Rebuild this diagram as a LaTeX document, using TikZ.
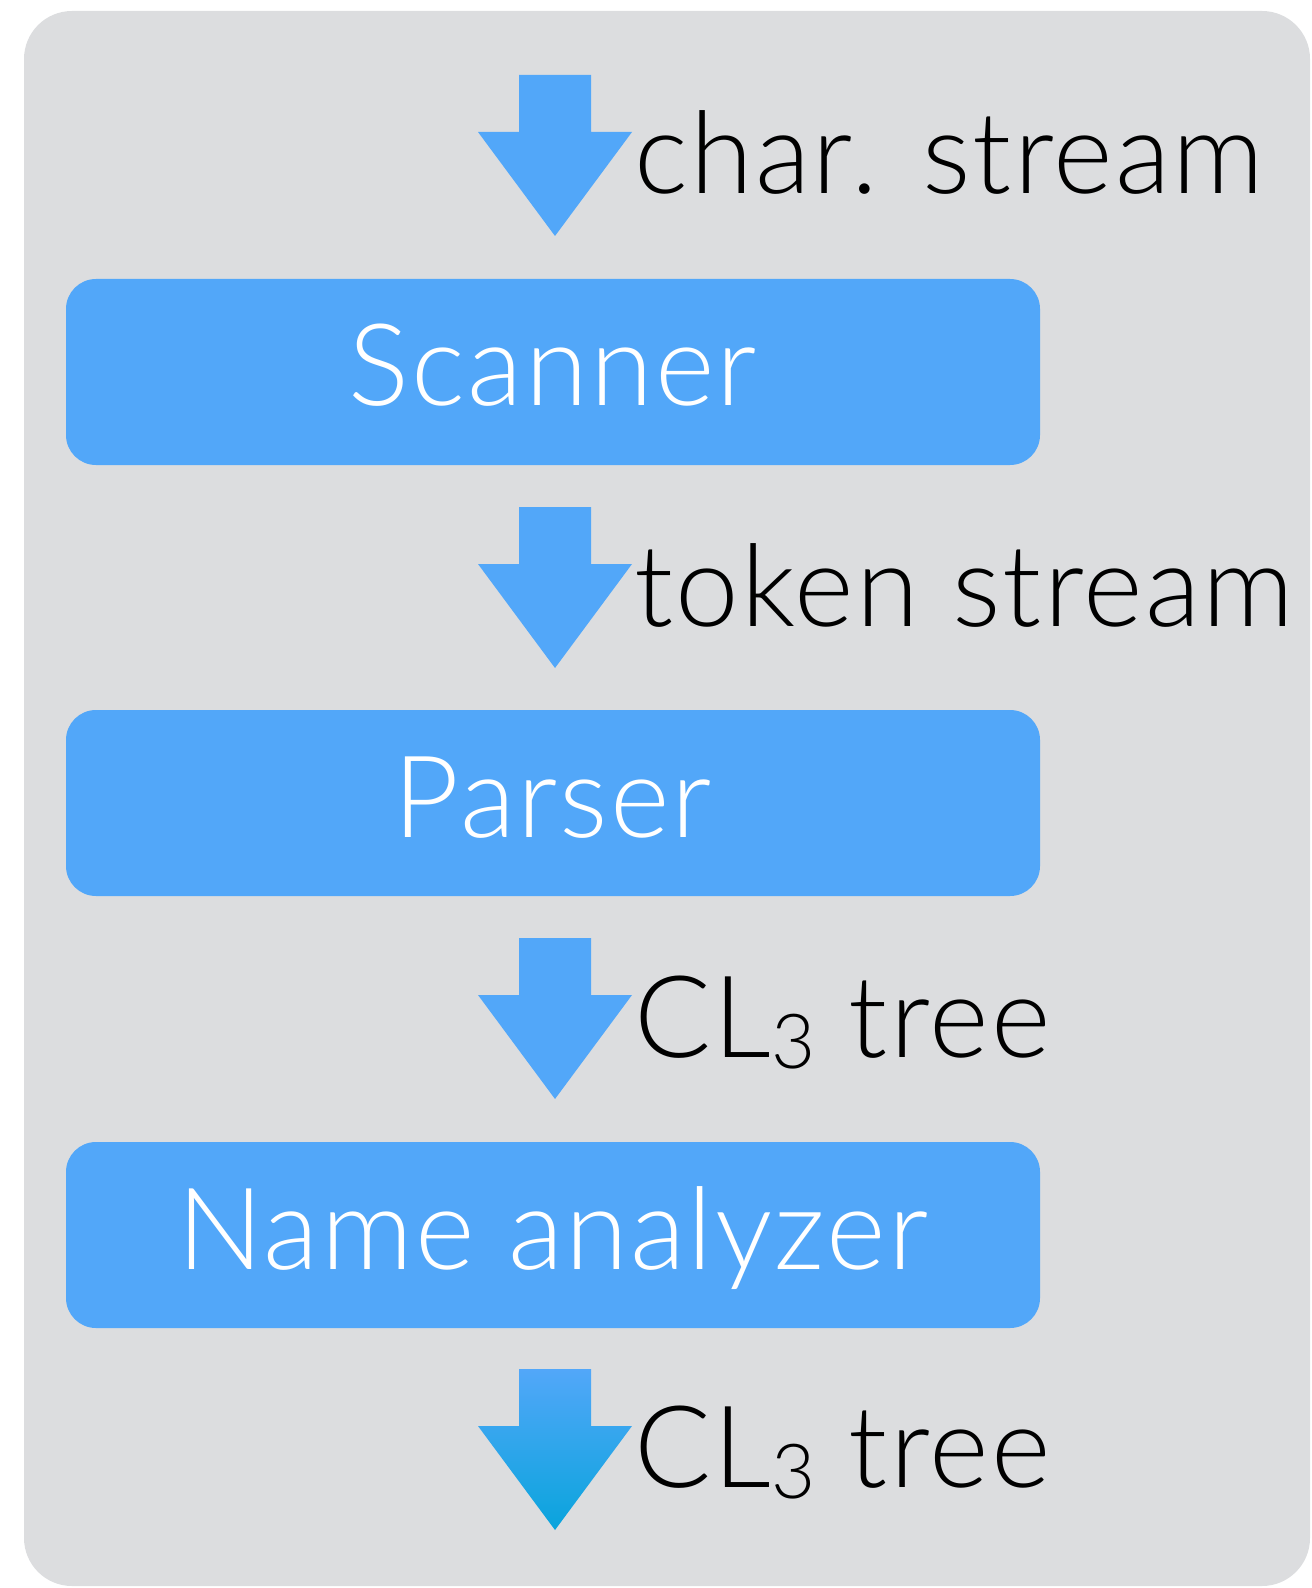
\documentclass[tikz,border=0pt]{standalone}
\usepackage{fontspec}
\setmainfont{Lato}[UprightFont={* Light},LetterSpace=2]
\usetikzlibrary{positioning}
\definecolor{panelgray}{HTML}{DCDDDF}
\definecolor{stageblue}{HTML}{52A7F9}
\definecolor{outcyan}{HTML}{09A4DC}
\newcommand{\bigfont}{\fontsize{57pt}{68pt}\selectfont}
\newcommand{\subthree}{\raisebox{-5.5pt}{\fontsize{38pt}{40pt}\selectfont 3}}
\tikzset{
  stage/.style={fill=stageblue,text=white,rounded corners=15pt,
    minimum width=487pt,minimum height=93pt,inner sep=0pt,
    text height=44pt,text depth=10pt,font=\bigfont},
  flowlbl/.style={anchor=base west,inner sep=0pt,font=\bigfont},
  % block arrow pointing down, origin at the middle of its top edge
  pics/downarrow/.style={code={
    \path[pic actions] (-36,0) -- (36,0) -- (36,57) -- (77,57) -- (0,161)
      -- (-77,57) -- (-36,57) -- cycle;}},
}

\begin{document}
\begin{tikzpicture}[x=0.5pt,y=-0.5pt]
  \useasboundingbox (0,0) rectangle (1311,1588);
  % panel
  \fill[panelgray,rounded corners=24pt] (24,11) rectangle (1310,1586);
  % compiler stages
  \node[stage] (scan) at (553,372) {Scanner};
  \node[stage] (parse) at (553,803) {Parser};
  \node[stage] (names) at (553,1235) {Name analyzer};
  % data passed between stages
  \foreach \y/\txt [count=\i] in {75/{char. stream},507/{token stream},938/{CL\subthree{} tree}}{
    \pic[fill=stageblue] at (555,\y) {downarrow};
    \node[flowlbl] (lbl\i) at (634,\y+119) {\txt};
  }
  \pic[top color=stageblue,bottom color=outcyan] at (555,1369) {downarrow};
  \node[flowlbl] (lbl4) at (634,1487) {CL\subthree{} tree};
\end{tikzpicture}
\end{document}
